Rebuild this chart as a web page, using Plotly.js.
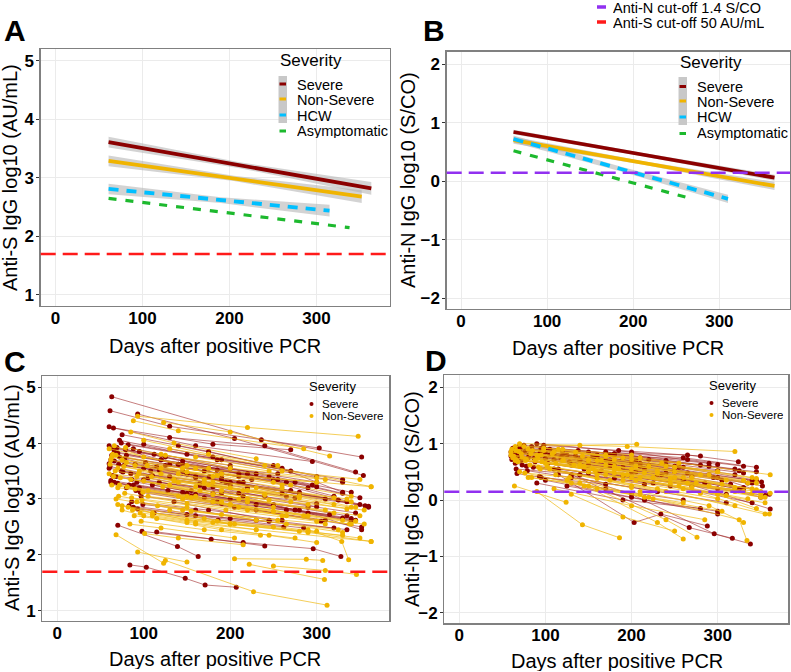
<!DOCTYPE html>
<html>
<head>
<meta charset="utf-8">
<script src="https://cdn.plot.ly/plotly-3.0.1.min.js"></script>
<style>html,body{margin:0;padding:0;background:#fff}#chart{width:791px;height:672px}</style>
</head>
<body>
<div id="chart"></div>
<script>
// ---------------- DATA ----------------
const xTicks = [0, 100, 200, 300];
const yTicksS = [1, 2, 3, 4, 5];
const yTicksN = [-2, -1, 0, 1, 2];
const groups = ["Severe", "Non-Severe", "HCW", "Asymptomatic"];
const cutoffS = Math.log10(50);   // Anti-S cut-off 50 AU/mL
const cutoffN = Math.log10(1.4);  // Anti-N cut-off 1.4 S/CO

// Panel A: fitted Anti-S lines and confidence bands
const A_sev_days = [61, 210, 363], A_sev_fit = [3.61, 3.22, 2.82], A_sev_lo = [3.52, 3.17, 2.71], A_sev_hi = [3.70, 3.27, 2.93];
const A_non_days = [61, 205, 352], A_non_fit = [3.29, 2.99, 2.68], A_non_lo = [3.20, 2.945, 2.57], A_non_hi = [3.38, 3.035, 2.79];
const A_hcw_days = [61, 190, 315], A_hcw_fit = [2.81, 2.62, 2.44], A_hcw_lo = [2.72, 2.57, 2.34], A_hcw_hi = [2.90, 2.67, 2.54];
const A_asy_days = [61, 338], A_asy_fit = [2.65, 2.15];

// Panel B: fitted Anti-N lines and confidence bands
const B_sev_days = [61, 212, 364], B_sev_fit = [0.84, 0.45, 0.06], B_sev_lo = [0.80, 0.42, 0.01], B_sev_hi = [0.88, 0.48, 0.11];
const B_non_days = [61, 212, 364], B_non_fit = [0.70, 0.31, -0.08], B_non_lo = [0.64, 0.28, -0.15], B_non_hi = [0.76, 0.34, -0.01];
const B_hcw_days = [61, 185, 310], B_hcw_fit = [0.72, 0.21, -0.30], B_hcw_lo = [0.66, 0.17, -0.37], B_hcw_hi = [0.78, 0.25, -0.23];
const B_asy_days = [61, 268], B_asy_fit = [0.52, -0.30];

// Panel C: individual Anti-S trajectories
const C_sev_days = [[63,236,352],[61,130,303],[93,205,354],[60,160,295],[65,180,270],[75,175,300],[72,150,260],[82,185,330],[60,140,255],[88,200,340],
  [70,120,245],[63,170,290],[95,210,356],[78,160,310],[66,150,280],[90,190,350],[61,135,265],[100,195,325],[74,180,300],[85,165,275],
  [68,155,335],[105,215,345],[62,145,250],[92,200,330],[70,170,290],[110,220,340],[80,190,305],[96,230,352],[86,175,260],[93,160,285],
  [88,150,245],[70,139,163],[98,215,296,328],[84,103,148,171,207],[115,178,240],[120,220,320],[130,240,345],[140,250,330],[125,210,300],[150,260,360],
  [100,180,270],[65,125,230],[77,145,215],[60,110,200],[83,200,320],[165,275,340],[180,290,352],[135,245,335],[66,95,185],[72,130,225],
  [62,115,210],[66,140,250],[71,160,270],[76,130,220],[80,185,295],[86,170,240],[91,180,315],[64,100,190],[69,145,300],[74,190,330],
  [83,160,280],[97,205,310],[102,190,265],[108,200,335],[118,210,300],[128,230,345],[145,255,350],[155,265,340],[175,275,330],[190,280,360],
  [60,118,176],[62,88,150],[79,112,200],[99,160,230],[112,186,262]];
const C_sev_vals = [[4.83,4.06,3.75],[4.58,4.30,3.91],[4.52,4.08,3.42],[4.29,3.95,3.67],[4.27,3.98,3.88],[4.15,3.85,3.40],[4.05,3.80,3.55],[3.97,3.70,3.30],[3.95,3.62,3.45],[3.90,3.55,3.12],
  [3.82,3.70,3.40],[3.78,3.50,3.20],[3.85,3.45,2.88],[3.72,3.40,3.00],[3.68,3.45,3.10],[3.62,3.33,2.90],[3.58,3.35,3.05],[3.55,3.30,2.98],[3.50,3.22,2.86],[3.45,3.28,3.02],
  [3.40,3.15,2.70],[3.38,3.05,2.75],[3.33,3.12,2.90],[3.30,3.00,2.66],[3.28,3.02,2.85],[3.25,2.95,2.65],[3.20,2.92,2.60],[3.12,2.80,2.50],[2.95,2.80,2.62],[2.82,2.70,2.48],
  [2.85,2.72,2.60],[2.53,2.15,1.97],[2.42,2.22,2.11,1.97],[1.82,1.78,1.58,1.46,1.42],[2.41,2.28,2.16],[3.70,3.45,3.05],[4.10,3.95,3.48],[3.95,3.60,3.12],[3.60,3.40,3.22],[3.45,3.10,2.87],
  [3.98,3.75,3.50],[3.90,3.75,3.45],[3.60,3.50,3.30],[3.55,3.42,3.25],[2.88,2.65,2.48],[3.25,2.80,2.60],[3.10,2.75,2.45],[2.95,2.62,2.45],[3.30,3.20,2.95],[3.75,3.62,3.35],
  [3.70,3.58,3.30],[3.85,3.62,3.35],[3.62,3.38,3.15],[3.48,3.40,3.20],[3.78,3.52,3.25],[3.35,3.20,3.05],[3.15,2.95,2.72],[3.42,3.35,3.10],[3.92,3.68,3.30],[4.00,3.70,3.35],
  [3.25,3.08,2.80],[3.05,2.85,2.62],[3.65,3.45,3.30],[3.50,3.30,2.95],[3.30,3.10,2.92],[3.15,2.90,2.62],[3.62,3.35,3.02],[3.05,2.80,2.62],[3.55,3.30,3.10],[3.38,3.12,2.85],
  [3.63,3.52,3.40],[3.30,3.25,3.10],[3.88,3.80,3.60],[2.90,2.80,2.62],[2.75,2.62,2.50]];
const C_non_days = [[93,220,348],[123,200,315],[88,140,285],[60,160,310],[68,150,300],[75,190,363],[63,120,260],[80,170,335],[70,140,280],[95,200,340],
  [65,130,245],[85,180,320],[100,210,350],[72,155,290],[90,200,345],[78,150,265],[105,220,338],[68,145,255],[92,190,310],[75,170,300],
  [87,205,330],[96,180,280],[110,230,363],[82,150,250],[68,123],[93,150],[125,227,312],[205,288,307],[222,309],[250,310,346],
  [290,329,337],[160,245,300],[130,200,290,363],[115,190,275],[140,230,320],[150,250,340],[160,260,350],[120,200,300],[130,240,363],[66,100,175],
  [62,90,180],[70,110,200],[75,100,160],[97,170,235],[140,210,285],[180,260,340],[190,270,355],[100,175,255],[85,135,230],[70,150,220],
  [61,120,220],[64,145,270],[67,135,240],[73,165,290],[77,180,320],[81,160,250],[86,195,300],[89,150,230],[94,175,280],[99,200,330],
  [104,185,260],[109,215,340],[116,230,325],[122,220,310],[135,240,335],[145,250,355],[155,265,330],[170,280,345],[185,290,350],[60,92,160],
  [63,105,190],[71,98,150],[84,120,205],[101,140,215],[79,125,245]];
const C_non_vals = [[4.48,4.28,4.12],[4.37,4.20,3.77],[4.40,4.22,3.90],[3.90,3.55,3.35],[3.78,3.48,3.30],[3.70,3.45,3.22],[3.75,3.55,3.20],[3.65,3.35,3.00],[3.55,3.30,3.05],[3.50,3.20,2.95],
  [3.40,3.25,2.98],[3.35,3.08,2.75],[3.32,3.00,2.70],[3.25,3.02,2.70],[3.18,2.90,2.60],[3.10,2.92,2.70],[3.05,2.80,2.55],[3.00,2.80,2.62],[2.95,2.72,2.55],[2.88,2.65,2.42],
  [2.80,2.55,2.35],[2.75,2.58,2.42],[2.70,2.45,2.24],[2.85,2.62,2.50],[2.36,1.85],[2.05,1.87],[1.90,1.34,1.10],[1.93,1.92,1.90],[1.83,1.56],[1.80,1.72,1.65],
  [2.45,2.24,1.91],[2.55,2.35,2.22],[2.80,2.55,2.40,2.24],[2.65,2.45,2.30],[3.45,3.20,2.90],[3.60,3.30,3.05],[3.75,3.50,3.35],[3.80,3.55,3.38],[3.90,3.60,3.22],[3.95,3.75,3.55],
  [3.70,3.60,3.40],[2.90,2.75,2.55],[2.80,2.70,2.58],[2.60,2.45,2.35],[3.05,2.85,2.70],[2.95,2.70,2.55],[3.15,2.95,2.80],[4.05,3.80,3.60],[4.20,4.00,3.72],[3.20,3.05,2.95],
  [3.62,3.45,3.15],[3.80,3.55,3.25],[3.50,3.32,3.08],[3.38,3.15,2.90],[3.58,3.30,3.02],[3.22,3.05,2.85],[3.02,2.80,2.60],[2.70,2.58,2.45],[3.45,3.25,3.02],[3.12,2.90,2.62],
  [3.60,3.42,3.25],[3.40,3.15,2.85],[2.88,2.62,2.45],[3.22,3.00,2.80],[3.35,3.08,2.82],[3.00,2.78,2.55],[2.78,2.55,2.40],[3.30,3.05,2.85],[2.60,2.42,2.30],[3.45,3.40,3.22],
  [3.25,3.15,2.95],[3.05,2.98,2.85],[2.55,2.48,2.30],[2.38,2.30,2.18],[3.92,3.78,3.50]];

// Panel D: individual Anti-N trajectories
const D_sev_days = [[62,150,265,324],[90,200,300],[75,180,320],[60,160,280],[68,170,300],[85,210,351],[63,140,260],[95,190,330],[70,150,250],[80,175,295],
  [61,130,240],[100,220,340],[72,165,285],[88,200,320],[65,150,270],[105,230,361],[78,180,310],[110,200,296,338],[130,267,317],[115,203,234,288],
  [66,140,225],[67,95,170],[84,180,290],[64,120,210],[98,185,280],[120,240,320],[140,250,335],[150,260,350],[160,270,355],[130,230,310],
  [100,200,300],[90,190,280],[170,260,345],[180,265,330],[60,100,180],[70,125,200],[110,205,325],[125,215,300],[145,245,340],[93,170,260],[200,290,360],
  [61,110,205],[64,135,250],[67,150,270],[71,160,290],[76,175,300],[81,190,315],[87,200,330],[94,210,340],[99,220,345],[103,200,300],
  [118,215,305],[128,235,330],[138,240,325],[155,255,345],[165,265,352],[62,95,160],[69,105,175],[73,115,190],[86,140,215],[79,130,230]];
const D_sev_vals = [[0.92,0.85,0.80,0.68],[1.00,0.85,0.63],[0.97,0.82,0.55],[0.85,0.78,0.62],[0.82,0.70,0.52],[0.88,0.65,0.32],[0.80,0.72,0.58],[0.92,0.75,0.48],[0.78,0.68,0.52],[0.75,0.60,0.40],
  [0.72,0.62,0.48],[0.85,0.62,0.30],[0.70,0.52,0.30],[0.68,0.45,0.18],[0.65,0.48,0.28],[0.80,0.45,-0.16],[0.60,0.38,0.10],[0.55,0.10,-0.60,-0.78],[0.45,-0.49,-0.68],[0.45,-0.40,-0.25,-0.46],
  [0.55,0.45,0.30],[0.47,0.40,0.28],[0.95,0.82,0.65],[0.90,0.85,0.75],[0.97,0.88,0.78],[0.80,0.62,0.45],[0.70,0.50,0.30],[0.60,0.35,0.05],[0.50,0.25,0.08],[0.40,0.15,-0.05],
  [0.35,0.05,-0.25],[0.30,0.00,-0.15],[0.85,0.75,0.58],[0.80,0.72,0.60],[0.78,0.74,0.62],[0.87,0.80,0.70],[0.72,0.50,0.20],[0.25,0.00,-0.20],[0.55,0.25,-0.05],[0.42,0.20,0.00],[0.65,0.45,0.10],
  [0.85,0.80,0.70],[0.88,0.78,0.60],[0.76,0.62,0.42],[0.92,0.80,0.60],[0.86,0.68,0.40],[0.80,0.58,0.28],[0.74,0.50,0.22],[0.84,0.60,0.35],[0.90,0.72,0.50],[0.65,0.42,0.20],
  [0.75,0.55,0.35],[0.68,0.45,0.18],[0.88,0.70,0.52],[0.78,0.58,0.35],[0.70,0.48,0.25],[0.82,0.80,0.72],[0.95,0.90,0.80],[0.62,0.55,0.42],[0.58,0.45,0.28],[0.52,0.40,0.15]];
const D_non_days = [[70,195,320],[65,140,206],[80,210,361],[64,124],[90,143,186],[85,180,300],[60,150,280],[72,170,310],[95,200,340],[62,140,260],
  [78,180,330],[88,190,290],[68,160,270],[100,210,350],[82,175,300],[92,200,320],[105,230,355],[70,160,260],[112,220,325,334],[140,230,260],
  [150,240,276],[130,190,250],[110,200,285],[125,215,305],[160,250,345],[180,270,361],[170,260,355],[190,280,360],[75,120,200],[66,110,190],
  [90,150,240],[98,170,255],[115,200,300],[135,235,340],[150,255,335],[80,130,210],[145,245,350],[200,300,345],[210,290,330],
  [60,120,230],[63,140,250],[66,155,275],[69,165,290],[73,180,305],[77,195,320],[83,205,335],[91,215,345],[96,225,350],[102,205,310],
  [108,220,330],[121,230,320],[133,245,340],[143,250,345],[158,265,355],[61,98,170],[65,112,185],[76,128,200],[84,145,225],[94,160,240]];
const D_non_vals = [[1.00,0.95,0.86],[0.95,0.97,0.99],[0.90,0.75,0.45],[0.25,-0.04],[0.15,-0.44,-0.67],[0.88,0.72,0.50],[0.85,0.70,0.45],[0.82,0.62,0.35],[0.80,0.55,0.20],[0.75,0.60,0.40],
  [0.72,0.48,0.15],[0.70,0.45,0.25],[0.68,0.45,0.22],[0.65,0.40,0.05],[0.62,0.35,0.02],[0.58,0.25,-0.10],[0.55,0.20,-0.25],[0.50,0.20,-0.05],[0.45,0.05,-0.35,-0.72],[0.30,-0.40,-0.69],
  [0.25,-0.35,-0.66],[0.10,-0.30,-0.55],[0.20,-0.10,-0.35],[0.35,0.05,-0.20],[0.70,0.50,0.30],[0.60,0.40,0.12],[0.45,0.20,-0.05],[0.35,0.12,-0.25],[0.95,0.90,0.80],[0.88,0.85,0.75],
  [0.80,0.72,0.60],[0.92,0.80,0.65],[0.90,0.72,0.50],[0.85,0.65,0.40],[0.50,0.25,0.02],[0.40,0.30,0.10],[0.60,0.30,0.15],[0.40,0.10,-0.15],[0.15,-0.10,-0.40],
  [0.80,0.70,0.52],[0.78,0.62,0.40],[0.72,0.55,0.30],[0.86,0.70,0.45],[0.76,0.55,0.28],[0.70,0.45,0.15],[0.82,0.60,0.30],[0.74,0.48,0.18],[0.68,0.40,0.10],[0.60,0.35,0.08],
  [0.82,0.60,0.35],[0.70,0.48,0.22],[0.62,0.38,0.12],[0.78,0.58,0.38],[0.52,0.30,0.05],[0.90,0.88,0.78],[0.70,0.65,0.55],[0.48,0.40,0.22],[0.40,0.25,0.02],[0.55,0.38,0.15]];

// ---------------- STYLE / GEOMETRY ----------------
const W = 791, H = 672;
const px = v => v / W, py = v => 1 - v / H;
const FONT = "Arial, 'Liberation Sans', sans-serif";
const C_SEV = "#8B0000", C_NON = "#F0B400", C_HCW = "#00BFFF", C_ASY = "#1DB92E";
const C_RED = "#FF1A1A", C_PUR = "#9130F0";
const BAND = "rgba(175,175,175,0.55)";

function spaghetti(daysList, valsList) {
  const x = [], y = [];
  daysList.forEach((d, i) => { d.forEach((v, j) => { x.push(v); y.push(valsList[i][j]); }); x.push(null); y.push(null); });
  return {x, y};
}
function band(days, lo, hi, xa, ya) {
  return {x: days.concat(days.slice().reverse()), y: hi.concat(lo.slice().reverse()), xaxis: xa, yaxis: ya,
    type: "scatter", mode: "lines", fill: "toself", fillcolor: BAND, line: {width: 0}, hoverinfo: "skip", showlegend: false};
}
function fitLine(days, fit, color, dash, width, xa, ya, name) {
  return {x: days, y: fit, xaxis: xa, yaxis: ya, type: "scatter", mode: "lines", name: name,
    line: {color: color, width: width, dash: dash}, showlegend: false};
}
function traj(obj, lineColor, markerColor, xa, ya, name) {
  return {x: obj.x, y: obj.y, xaxis: xa, yaxis: ya, type: "scatter", mode: "lines+markers", name: name,
    connectgaps: false, line: {color: lineColor, width: 1}, marker: {color: markerColor, size: 5}, showlegend: false};
}

const traces = [
  band(A_sev_days, A_sev_lo, A_sev_hi, "x", "y"),
  band(A_non_days, A_non_lo, A_non_hi, "x", "y"),
  band(A_hcw_days, A_hcw_lo, A_hcw_hi, "x", "y"),
  fitLine(A_sev_days, A_sev_fit, C_SEV, "solid", 3.8, "x", "y", groups[0]),
  fitLine(A_non_days, A_non_fit, C_NON, "solid", 3.8, "x", "y", groups[1]),
  fitLine(A_hcw_days, A_hcw_fit, C_HCW, "10px,8px", 3.8, "x", "y", groups[2]),
  fitLine(A_asy_days, A_asy_fit, C_ASY, "8px,9px", 3.2, "x", "y", groups[3]),
  band(B_sev_days, B_sev_lo, B_sev_hi, "x2", "y2"),
  band(B_non_days, B_non_lo, B_non_hi, "x2", "y2"),
  band(B_hcw_days, B_hcw_lo, B_hcw_hi, "x2", "y2"),
  fitLine(B_sev_days, B_sev_fit, C_SEV, "solid", 3.8, "x2", "y2", groups[0]),
  fitLine(B_non_days, B_non_fit, C_NON, "solid", 3.8, "x2", "y2", groups[1]),
  fitLine(B_hcw_days, B_hcw_fit, C_HCW, "10px,8px", 3.8, "x2", "y2", groups[2]),
  fitLine(B_asy_days, B_asy_fit, C_ASY, "8px,9px", 3.2, "x2", "y2", groups[3]),
  traj(spaghetti(C_sev_days, C_sev_vals), "rgba(160,40,40,0.6)", C_SEV, "x3", "y3", groups[0]),
  traj(spaghetti(C_non_days, C_non_vals), "rgba(240,185,20,0.7)", C_NON, "x3", "y3", groups[1]),
  traj(spaghetti(D_sev_days, D_sev_vals), "rgba(160,40,40,0.6)", C_SEV, "x4", "y4", groups[0]),
  traj(spaghetti(D_non_days, D_non_vals), "rgba(240,185,20,0.7)", C_NON, "x4", "y4", groups[1])
];

function xAxis(domain, range, anchor) {
  return {domain: domain, range: range, anchor: anchor, tickvals: xTicks, ticks: "",
    ticklabelstandoff: -4,
    tickfont: {family: FONT, size: 17, color: "#000", weight: "bold"}, showgrid: true, gridcolor: "#EBEBEB", gridwidth: 1,
    zeroline: false, showline: true, mirror: true, linecolor: "#808080", linewidth: 1.3, fixedrange: true};
}
function yAxis(domain, range, anchor, ticks) {
  return {domain: domain, range: range, anchor: anchor, tickvals: ticks, ticks: "outside", ticklen: 3, tickcolor: "#333",
    ticklabelstandoff: -1,
    tickfont: {family: FONT, size: 17, color: "#000", weight: "bold"}, showgrid: true, gridcolor: "#EBEBEB", gridwidth: 1,
    zeroline: false, showline: true, mirror: true, linecolor: "#808080", linewidth: 1.3, fixedrange: true};
}

const shapes = [
  {type: "line", xref: "x domain", yref: "y", x0: 0, x1: 1, y0: cutoffS, y1: cutoffS, line: {color: C_RED, width: 2.5, dash: "15px,7px"}},
  {type: "line", xref: "x2 domain", yref: "y2", x0: 0, x1: 1, y0: cutoffN, y1: cutoffN, line: {color: C_PUR, width: 2.5, dash: "15px,7px"}},
  {type: "line", xref: "x3 domain", yref: "y3", x0: 0, x1: 1, y0: cutoffS, y1: cutoffS, line: {color: C_RED, width: 2.5, dash: "15px,7px"}},
  {type: "line", xref: "x4 domain", yref: "y4", x0: 0, x1: 1, y0: cutoffN, y1: cutoffN, line: {color: C_PUR, width: 2.5, dash: "15px,7px"}},
];
const annotations = [];
function txt(text, x, y, size, opts) {
  annotations.push(Object.assign({text: text, x: px(x), y: py(y), xref: "paper", yref: "paper", showarrow: false,
    font: {family: FONT, size: size, color: "#000"}, xanchor: "center", yanchor: "middle"}, opts || {}));
}
function keyLine(x0, x1, y, color, width, dash) {
  shapes.push({type: "line", xref: "paper", yref: "paper", x0: px(x0), x1: px(x1), y0: py(y), y1: py(y), line: {color: color, width: width, dash: dash || "solid"}});
}
function keyRect(x0, x1, y0, y1) {
  shapes.push({type: "rect", xref: "paper", yref: "paper", x0: px(x0), x1: px(x1), y0: py(y1), y1: py(y0), fillcolor: "#C8C8C8", line: {width: 0}, layer: "above"});
}
function keyDot(x, y, color) {
  shapes.push({type: "circle", xref: "paper", yref: "paper", x0: px(x - 2), x1: px(x + 2), y0: py(y + 2), y1: py(y - 2), fillcolor: color, line: {width: 0}});
}

// panel letters
const letterFont = {family: FONT, size: 30, color: "#000", weight: "bold"};
txt("A", 15, 31, 30, {font: letterFont});
txt("B", 434, 31, 30, {font: letterFont});
txt("C", 15, 361, 30, {font: letterFont});
txt("D", 436, 360, 30, {font: letterFont});

// axis titles
const titleBox = {height: 20, borderpad: 0};
txt("Days after positive PCR", 215, 346, 20, titleBox);
txt("Days after positive PCR", 618, 348, 20, titleBox);
txt("Days after positive PCR", 215, 659, 20, titleBox);
txt("Days after positive PCR", 617, 661, 20, titleBox);
txt("Anti-S IgG log10 (AU/mL)", 10, 178, 20, {textangle: -90, borderpad: 0});
txt("Anti-N IgG log10 (S/CO)", 408, 180, 20, {textangle: -90, borderpad: 0});
txt("Anti-S IgG log10 (AU/mL)", 12, 498, 20, {textangle: -90, borderpad: 0});
txt("Anti-N IgG log10 (S/CO)", 412, 499, 20, {textangle: -90, borderpad: 0});

// cut-off legend (top)
const tight = h => ({xanchor: "left", height: h, borderpad: 0});
keyLine(597, 606, 7, C_PUR, 3.5);
keyLine(597, 606, 22, C_RED, 3.5);
txt("Anti-N cut-off 1.4 S/CO", 612, 8, 14.5, tight(15));
txt("Anti-S cut-off 50 AU/mL", 612, 23, 14.5, tight(15));

// legend A
txt("Severity", 278, 60, 17, {xanchor: "left"});
keyRect(278.5, 287, 76, 123);
keyLine(279.5, 286, 84, C_SEV, 3);
keyLine(279.5, 286, 99, C_NON, 3);
keyLine(279.5, 286, 115, C_HCW, 3);
keyLine(279.5, 286, 131, C_ASY, 3);
txt(groups[0], 296, 84, 14.5, tight(15));
txt(groups[1], 296, 99, 14.5, tight(15));
txt(groups[2], 296, 115.5, 14.5, tight(15));
txt(groups[3], 296, 131, 14.5, tight(15));

// legend B
txt("Severity", 678, 62, 17, {xanchor: "left"});
keyRect(678.5, 687, 77, 125);
keyLine(679.5, 686, 86.5, C_SEV, 3);
keyLine(679.5, 686, 101, C_NON, 3);
keyLine(679.5, 686, 117, C_HCW, 3);
keyLine(679.5, 686, 133.5, C_ASY, 3);
txt(groups[0], 696, 86.5, 14.5, tight(15));
txt(groups[1], 696, 101.5, 14.5, tight(15));
txt(groups[2], 696, 117, 14.5, tight(15));
txt(groups[3], 696, 133, 14.5, tight(15));

// legend C
txt("Severity", 307, 386, 13, {xanchor: "left"});
keyDot(311.5, 404, C_SEV);
keyDot(311.5, 416, C_NON);
txt(groups[0], 321, 404, 11.5, tight(12));
txt(groups[1], 321, 416, 11.5, tight(12));

// legend D
txt("Severity", 707, 385, 13, {xanchor: "left"});
keyDot(711.5, 403, C_SEV);
keyDot(711.5, 415, C_NON);
txt(groups[0], 721, 403, 11.5, tight(12));
txt(groups[1], 721, 415, 11.5, tight(12));

const layout = {
  width: W, height: H, margin: {l: 0, r: 0, t: 0, b: 0},
  paper_bgcolor: "#fff", plot_bgcolor: "#fff", showlegend: false,
  font: {family: FONT, color: "#000"},
  xaxis: xAxis([px(40.7), px(390)], [-17, 384.5], "y"),
  yaxis: yAxis([py(306), py(49)], [0.812, 5.2], "x", yTicksS),
  xaxis2: xAxis([px(446.7), px(790)], [-16.6, 382], "y2"),
  yaxis2: yAxis([py(309), py(51.7)], [-2.18, 2.21], "x2", yTicksN),
  xaxis3: xAxis([px(42.3), px(389.3)], [-17.3, 384], "y3"),
  yaxis3: yAxis([py(621), py(376)], [0.816, 5.2], "x3", yTicksS),
  xaxis4: xAxis([px(444.3), px(788.3)], [-17.4, 382], "y4"),
  yaxis4: yAxis([py(623.3), py(375)], [-2.188, 2.218], "x4", yTicksN),
  shapes: shapes, annotations: annotations
};
Plotly.newPlot("chart", traces, layout, {displayModeBar: false, staticPlot: true});
</script>
</body>
</html>
